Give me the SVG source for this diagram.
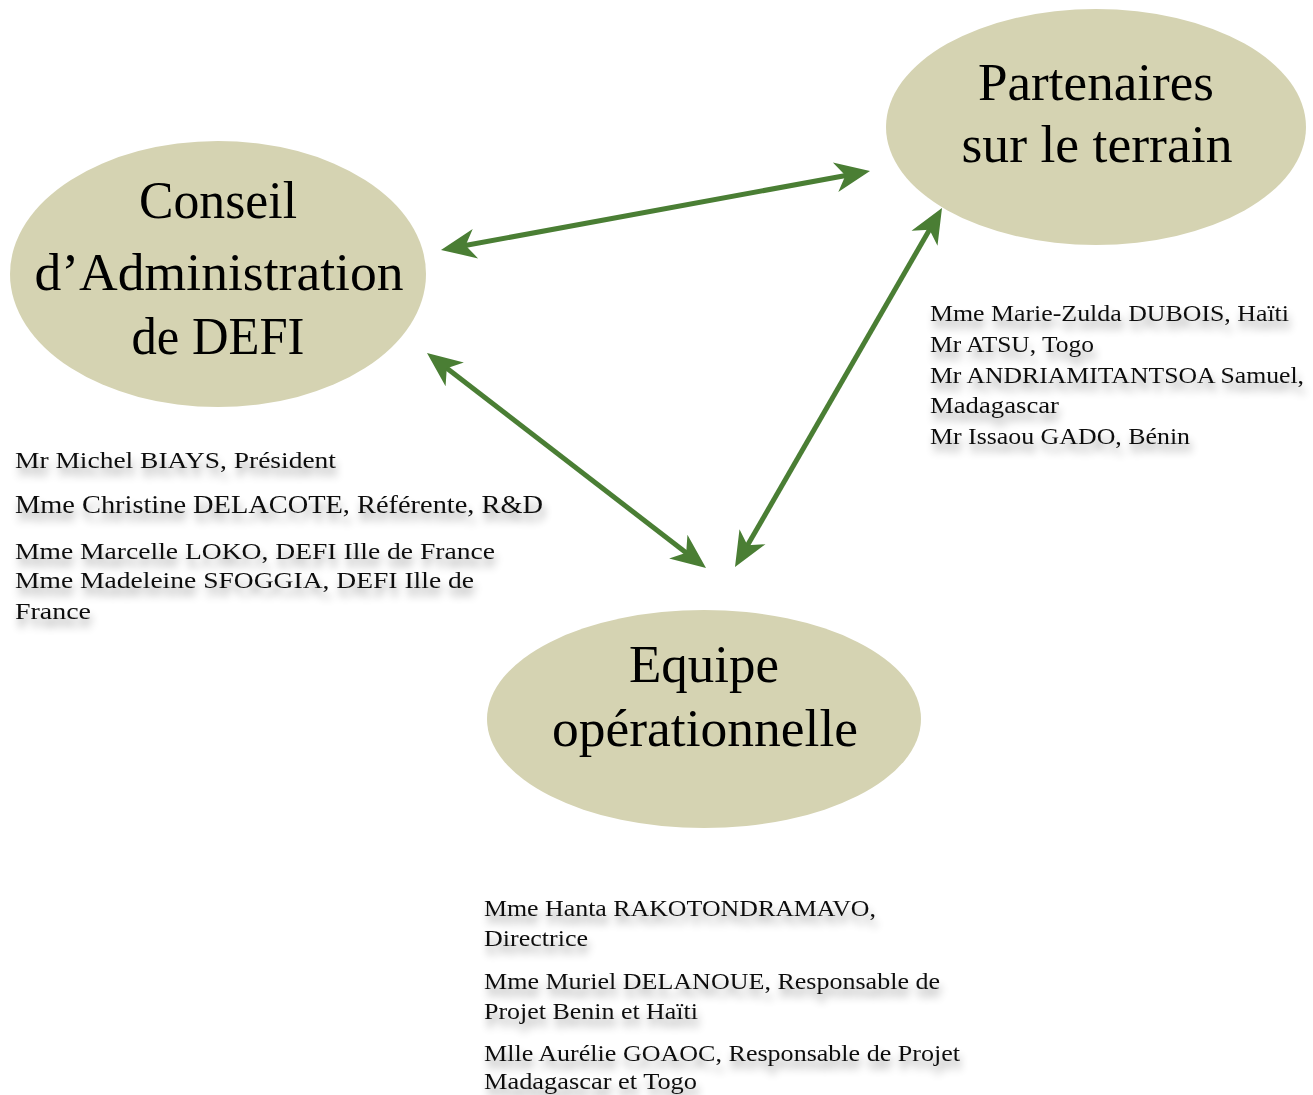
<svg xmlns="http://www.w3.org/2000/svg" width="1313" height="1095" viewBox="0 0 1313 1095">
<style>
.node{fill:#d5d3b2}
.big{font-family:"Liberation Serif","Times New Roman",serif;font-size:53px;fill:#000;text-anchor:middle}
.sm{font-family:"Liberation Serif","Times New Roman",serif;font-size:24px;fill:#111}
.conn{stroke:#4a7e34;stroke-width:5;fill:none}
</style>
<defs>
<marker id="ah" markerUnits="userSpaceOnUse" markerWidth="40" markerHeight="34" viewBox="-26 -17 40 34" refX="0" refY="0" orient="auto-start-reverse">
<path d="M12,0 L-23,-15 L-13,0 L-23,15 Z" fill="#4a7e34"/>
</marker>
<filter id="sh" x="-10%" y="-50%" width="120%" height="220%">
<feGaussianBlur in="SourceAlpha" stdDeviation="4"/>
<feOffset dx="2" dy="8" result="b"/>
<feComponentTransfer><feFuncA type="linear" slope="0.4"/></feComponentTransfer>
<feMerge><feMergeNode/><feMergeNode in="SourceGraphic"/></feMerge>
</filter>
</defs>

<g id="conseil">
<ellipse class="node" cx="218" cy="274" rx="208" ry="133"/>
<text class="big" x="218" y="218" textLength="158" lengthAdjust="spacingAndGlyphs">Conseil</text>
<text class="big" x="219" y="290" textLength="369" lengthAdjust="spacingAndGlyphs">d’Administration</text>
<text class="big" x="218" y="354" textLength="173" lengthAdjust="spacingAndGlyphs">de DEFI</text>
</g>

<g id="partenaires">
<ellipse class="node" cx="1096" cy="127" rx="210" ry="118"/>
<text class="big" x="1096" y="100" textLength="236" lengthAdjust="spacingAndGlyphs">Partenaires</text>
<text class="big" x="1097" y="162" textLength="271" lengthAdjust="spacingAndGlyphs">sur le terrain</text>
</g>

<g id="equipe">
<ellipse class="node" cx="704" cy="719" rx="217" ry="109"/>
<text class="big" x="704" y="682" textLength="150" lengthAdjust="spacingAndGlyphs">Equipe</text>
<text class="big" x="705" y="746" textLength="306" lengthAdjust="spacingAndGlyphs">opérationnelle</text>
</g>

<g id="connectors">
<line class="conn" x1="452.8" y1="247.8" x2="858.2" y2="173.2" marker-start="url(#ah)" marker-end="url(#ah)"/>
<line class="conn" x1="436.5" y1="360.3" x2="696.5" y2="560.7" marker-start="url(#ah)" marker-end="url(#ah)"/>
<line class="conn" x1="936" y1="218.4" x2="741" y2="556.6" marker-start="url(#ah)" marker-end="url(#ah)"/>
</g>

<g id="conseil-members" filter="url(#sh)">
<text class="sm" x="15" y="468" textLength="321" lengthAdjust="spacingAndGlyphs">Mr Michel BIAYS, Président</text>
<text class="sm" x="15" y="513" style="font-size:26px" textLength="528" lengthAdjust="spacingAndGlyphs">Mme Christine DELACOTE, Référente, R&amp;D</text>
<text class="sm" x="15" y="559" textLength="480" lengthAdjust="spacingAndGlyphs">Mme Marcelle LOKO, DEFI Ille de France</text>
<text class="sm" x="15" y="588" textLength="459" lengthAdjust="spacingAndGlyphs">Mme Madeleine SFOGGIA, DEFI Ille de</text>
<text class="sm" x="15" y="619" textLength="76" lengthAdjust="spacingAndGlyphs">France</text>
</g>

<g id="partenaires-members" filter="url(#sh)">
<text class="sm" x="930" y="321" textLength="359" lengthAdjust="spacingAndGlyphs">Mme Marie-Zulda DUBOIS, Haïti</text>
<text class="sm" x="930" y="352" textLength="164" lengthAdjust="spacingAndGlyphs">Mr ATSU, Togo</text>
<text class="sm" x="930" y="383" textLength="374" lengthAdjust="spacingAndGlyphs">Mr ANDRIAMITANTSOA Samuel,</text>
<text class="sm" x="930" y="413" textLength="129" lengthAdjust="spacingAndGlyphs">Madagascar</text>
<text class="sm" x="930" y="444" textLength="260" lengthAdjust="spacingAndGlyphs">Mr Issaou GADO, Bénin</text>
</g>

<g id="equipe-members" filter="url(#sh)">
<text class="sm" x="484" y="916" textLength="392" lengthAdjust="spacingAndGlyphs">Mme Hanta RAKOTONDRAMAVO,</text>
<text class="sm" x="484" y="946" textLength="104" lengthAdjust="spacingAndGlyphs">Directrice</text>
<text class="sm" x="484" y="989" textLength="456" lengthAdjust="spacingAndGlyphs">Mme Muriel DELANOUE, Responsable de</text>
<text class="sm" x="484" y="1019" textLength="214" lengthAdjust="spacingAndGlyphs">Projet Benin et Haïti</text>
<text class="sm" x="484" y="1061" textLength="476" lengthAdjust="spacingAndGlyphs">Mlle Aurélie GOAOC, Responsable de Projet</text>
<text class="sm" x="484" y="1089" textLength="213" lengthAdjust="spacingAndGlyphs">Madagascar et Togo</text>
</g>
</svg>
